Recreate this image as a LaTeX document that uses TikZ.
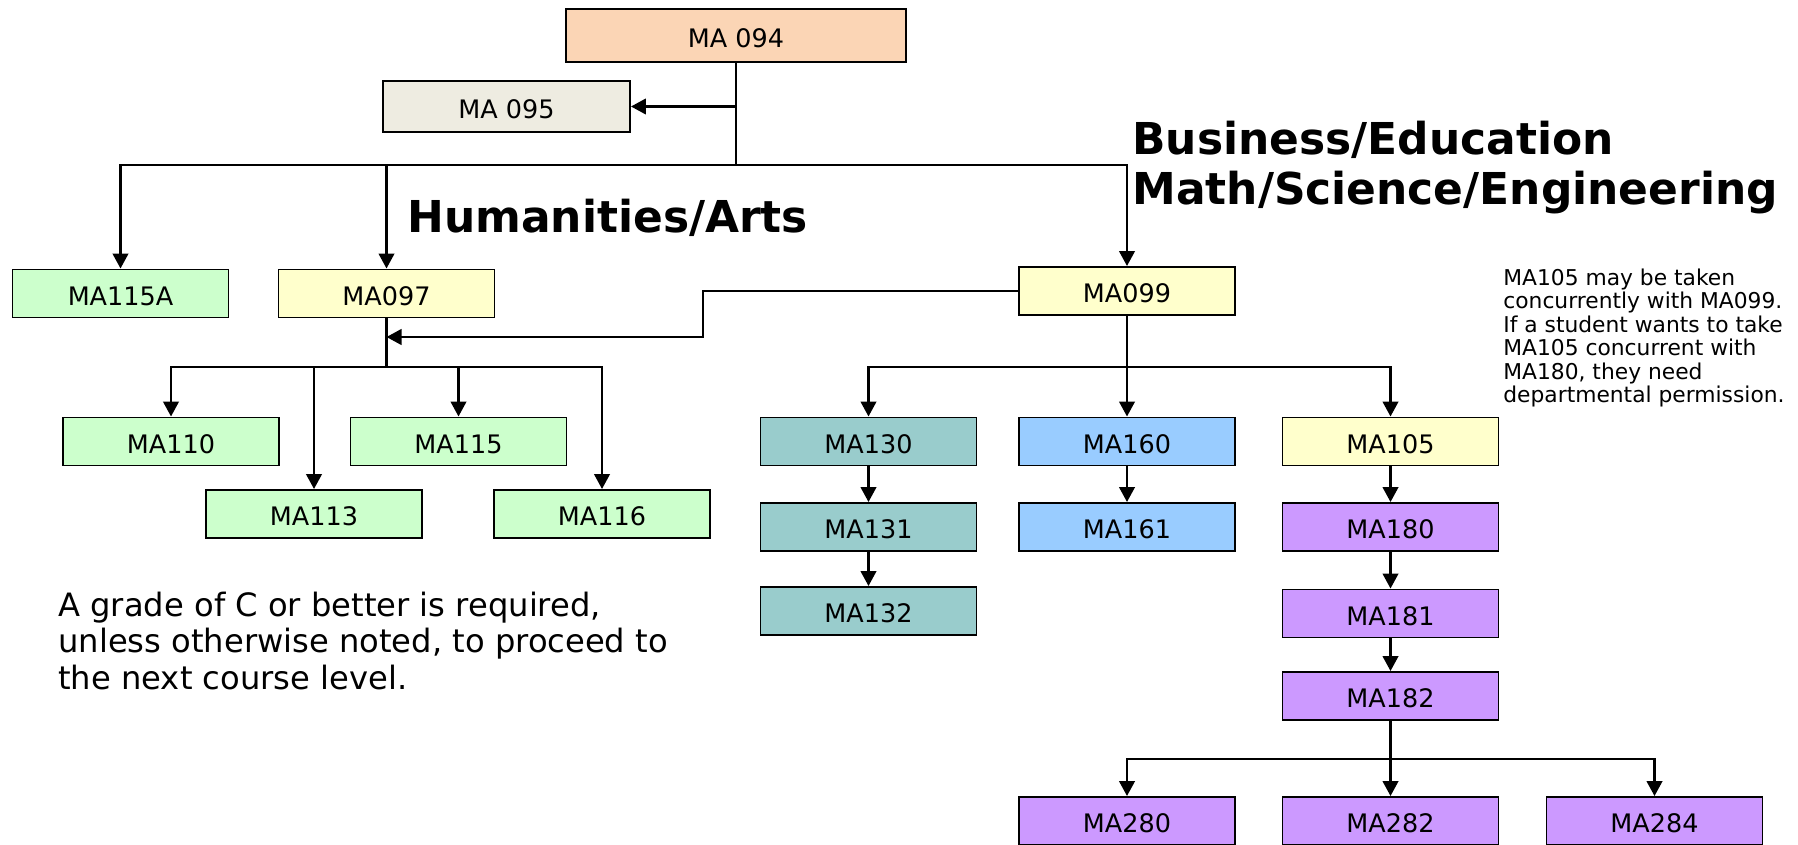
\documentclass[tikz,border=0pt]{standalone}
\usepackage{fontspec}
\setmainfont{DejaVu Sans}
\usetikzlibrary{arrows.meta}
\definecolor{peach}{RGB}{251,213,181}
\definecolor{stone}{RGB}{238,236,225}
\definecolor{mint}{RGB}{204,255,204}
\definecolor{cream}{RGB}{255,255,204}
\definecolor{teal}{RGB}{153,204,204}
\definecolor{sky}{RGB}{153,204,255}
\definecolor{lilac}{RGB}{204,153,255}
\begin{document}
\begin{tikzpicture}[x=0.2mm,y=-0.2mm,
  course/.style={draw,line width=1.1pt,minimum width=43.2mm,minimum height=9.6mm,inner sep=0pt,text height=13.5pt,text depth=0pt,font=\fontsize{14.5}{17}\selectfont},
  link/.style={line width=1.5pt},
  arr/.style={link,-{Triangle[length=3mm,width=3.1mm]}},
  head/.style={font=\bfseries\fontsize{25}{28.5}\selectfont,inner sep=0pt,anchor=west,align=left},
  remark/.style={inner sep=0pt,anchor=west,align=left}]
\useasboundingbox (0,0) rectangle (1798,844);
% top of the tree
\node[course,fill=peach,minimum width=68mm,minimum height=10.6mm] (m094) at (736,35.5) {MA 094};
\node[course,fill=stone,minimum width=49.4mm,minimum height=10.2mm] (m095) at (506.5,106.5) {MA 095};
\node[course,fill=mint] (m115a) at (120.5,293.5) {MA115A};
\node[course,fill=cream] (m097) at (386.5,293.5) {MA097};
\node[course,fill=cream] (m099) at (1127,291) {MA099};
% humanities branch
\node[course,fill=mint] (m110) at (171,441.5) {MA110};
\node[course,fill=mint] (m115) at (458.5,441.5) {MA115};
\node[course,fill=mint] (m113) at (314,514) {MA113};
\node[course,fill=mint] (m116) at (602,514) {MA116};
% business / science branch
\node[course,fill=teal] (m130) at (868.5,441.5) {MA130};
\node[course,fill=teal] (m131) at (868.5,527) {MA131};
\node[course,fill=teal] (m132) at (868.5,611) {MA132};
\node[course,fill=sky] (m160) at (1127,441.5) {MA160};
\node[course,fill=sky] (m161) at (1127,527) {MA161};
\node[course,fill=cream] (m105) at (1390.5,441.5) {MA105};
\node[course,fill=lilac] (m180) at (1390.5,527) {MA180};
\node[course,fill=lilac] (m181) at (1390.5,613.5) {MA181};
\node[course,fill=lilac] (m182) at (1390.5,696) {MA182};
\node[course,fill=lilac] (m280) at (1127,821) {MA280};
\node[course,fill=lilac] (m282) at (1390.5,821) {MA282};
\node[course,fill=lilac] (m284) at (1654.5,821) {MA284};
% headings and notes
\node[head] (hum) at (407,218) {Humanities/Arts};
\node[head] (bus) at (1132,168) {Business/Education\\Math/Science/Engineering};
\node[remark,font=\fontsize{12.4}{13.4}\selectfont] (conc) at (1503,338) {MA105 may be taken\\concurrently with MA099.\\If a student wants to take\\MA105 concurrent with\\MA180, they need\\departmental permission.};
\node[remark,font=\fontsize{18.3}{20.5}\selectfont] (grade) at (58,641) {A grade of C or better is required,\\unless otherwise noted, to proceed to\\the next course level.};
% connectors
\coordinate (t094) at (736,165);
\coordinate (t097) at (386.5,367);
\coordinate (t099) at (1127,367);
\coordinate (t182) at (1390.5,759);
\coordinate (k099) at (703,337);
\draw[link] (m094.south) -- (t094);
\draw[arr] (m094.south |- m095) -- (m095.east);
\draw[arr] (t094) -| (m115a.north);
\draw[arr] (t094) -| (m097.north);
\draw[arr] (t094) -| (m099.north);
\draw[arr] (m099.west) -| (k099) -- (k099 -| m097);
\draw[link] (m097.south) -- (t097);
\foreach \c in {m110,m113,m115,m116}
  \draw[arr] (t097) -| (\c.north);
\draw[link] (m099.south) -- (t099);
\foreach \c in {m130,m160,m105}
  \draw[arr] (t099) -| (\c.north);
\foreach \a/\b in {m130/m131,m131/m132,m160/m161,m105/m180,m180/m181,m181/m182}
  \draw[arr] (\a) -- (\b);
\draw[link] (m182.south) -- (t182);
\foreach \c in {m280,m282,m284}
  \draw[arr] (t182) -| (\c.north);
\end{tikzpicture}
\end{document}
